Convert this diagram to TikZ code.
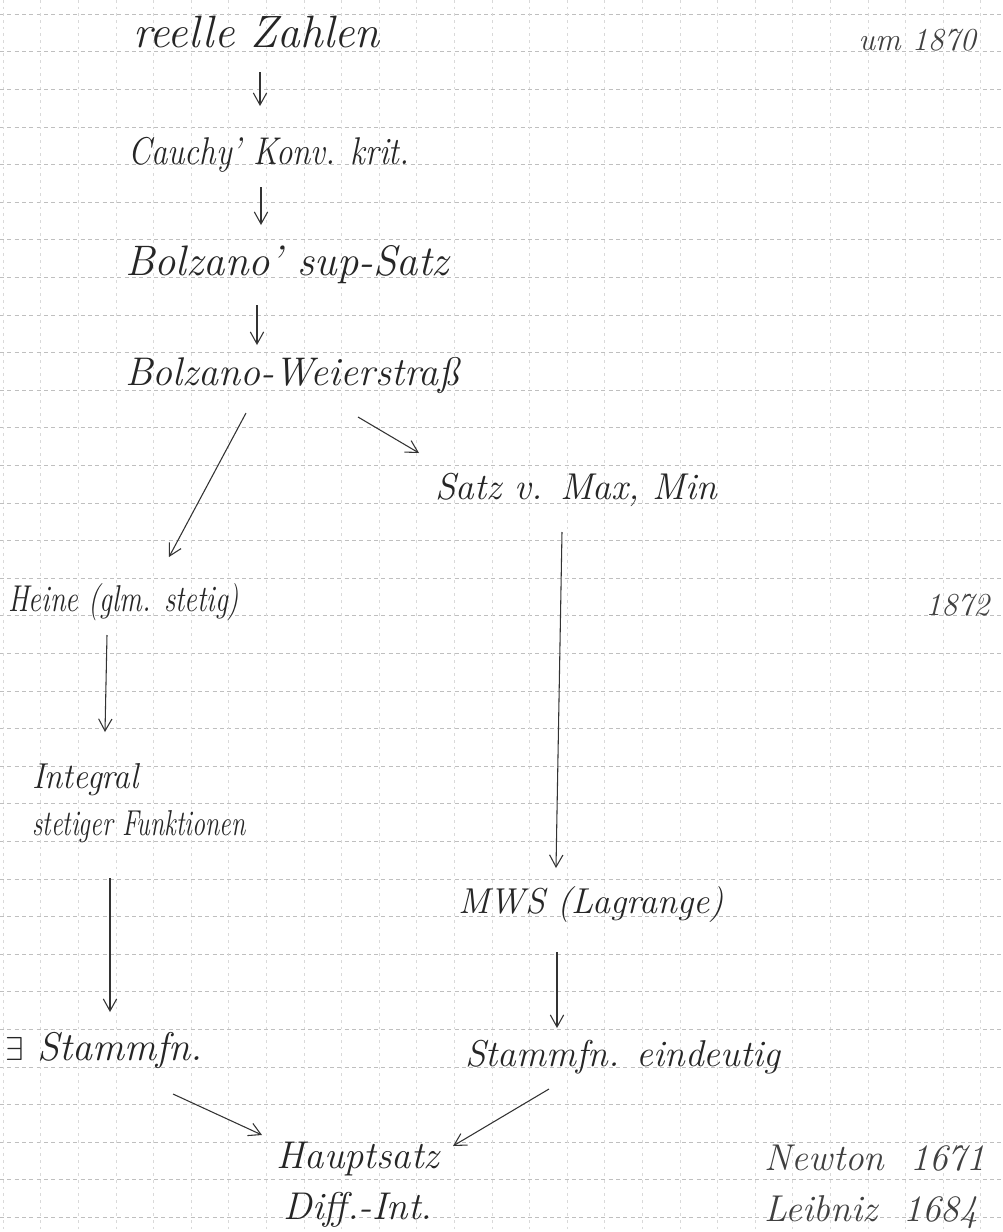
\documentclass[tikz,border=0pt]{standalone}
\usepackage{fontspec}
\usepackage{graphicx}
\usetikzlibrary{arrows.meta}
\tikzset{
  hw/.style={font=\fontsize{#1}{#1}\selectfont\itshape, text=black!85, inner sep=0pt, anchor=west},
  hw/.default=28,
  hwsmall/.style={font=\fontsize{24}{34}\selectfont\itshape, text=black!75, inner sep=0pt},
  arr/.style={draw=black!80, line width=0.8pt, -{Straight Barb[length=9pt,width=10pt,line width=0.8pt]}},
  gridh/.style={draw=black!25, line width=0.45pt, dash pattern=on 3pt off 2.5pt},
  gridv/.style={draw=black!15, line width=0.4pt, dash pattern=on 2pt off 3pt}
}
\begin{document}
\begin{tikzpicture}[x=0.75pt,y=-0.75pt]
\useasboundingbox (0,0) rectangle (1003,1232);
\fill[white] (0,0) rectangle (1003,1232);
% grid paper
\foreach \k in {0,...,32} {
  \draw[gridh] (0,{14+37.6*\k}) -- (1003,{14+37.6*\k});
}
\foreach \k in {0,...,26} {
  \draw[gridv] ({3+37.6*\k},0) -- ({3+37.6*\k},1232);
}
% texts
\node[hw=34] (reelle) at (133,32) {reelle Zahlen};
\node[hwsmall, anchor=west] (um) at (858,40) {um 1870};
\node[hw=29] (cauchy) at (128,155) {\scalebox{0.85}[1]{Cauchy' Konv. krit.}};
\node[hw=32] (bsup) at (125,265) {Bolzano' sup-Satz};
\node[hw=30] (bw) at (125,375) {Bolzano-Weierstraß};
\node[hw=28] (satz) at (435,490) {Satz v. Max, Min};
\node[hw=28] (heine) at (8,602) {\scalebox{0.76}[1]{Heine (glm. stetig)}};
\node[hwsmall, anchor=west] (y1872) at (925,605) {1872};
\node[hw=27, align=left, font=\fontsize{27}{35}\selectfont\itshape] (integral) at (32,803) {\scalebox{0.92}[1]{Integral}\\\scalebox{0.72}[1]{stetiger Funktionen}};
\node[hw=27] (mws) at (458,905) {MWS (Lagrange)};
\node[hw=30] (exst) at (5,1050) {$\exists$ Stammfn.};
\node[hw=28] (eind) at (465,1057) {Stammfn. eindeutig};
\node[hw, anchor=center, align=center, font=\fontsize{29}{38}\selectfont\itshape] (haupt) at (358,1185) {Hauptsatz\\Diff.-Int.};
\node[hwsmall, anchor=center, align=left, font=\fontsize{28}{38}\selectfont\itshape] (nl) at (875,1187) {Newton\ \ 1671\\Leibniz\ \ 1684};
% connector endpoints
\coordinate (a1s) at (260,72);   \coordinate (a1e) at (260,106);
\coordinate (a2s) at (261,187);  \coordinate (a2e) at (261,225);
\coordinate (a3s) at (257,305);  \coordinate (a3e) at (257,345);
\coordinate (a4s) at (246,413);  \coordinate (a4e) at (169,557);
\coordinate (a5s) at (358,417);  \coordinate (a5e) at (419,453);
\coordinate (a6s) at (107,635);  \coordinate (a6e) at (105,732);
\coordinate (a7s) at (562,532);  \coordinate (a7e) at (556,868);
\coordinate (a8s) at (110,878);  \coordinate (a8e) at (110,1012);
\coordinate (a9s) at (557,952);  \coordinate (a9e) at (557,1028);
\coordinate (a10s) at (173,1094); \coordinate (a10e) at (262,1135);
\coordinate (a11s) at (549,1089); \coordinate (a11e) at (453,1146);
\draw[arr] (a1s) -- (a1e);
\draw[arr] (a2s) -- (a2e);
\draw[arr] (a3s) -- (a3e);
\draw[arr] (a4s) -- (a4e);
\draw[arr] (a5s) -- (a5e);
\draw[arr] (a6s) -- (a6e);
\draw[arr] (a7s) -- (a7e);
\draw[arr] (a8s) -- (a8e);
\draw[arr] (a9s) -- (a9e);
\draw[arr] (a10s) -- (a10e);
\draw[arr] (a11s) -- (a11e);
\end{tikzpicture}
\end{document}
